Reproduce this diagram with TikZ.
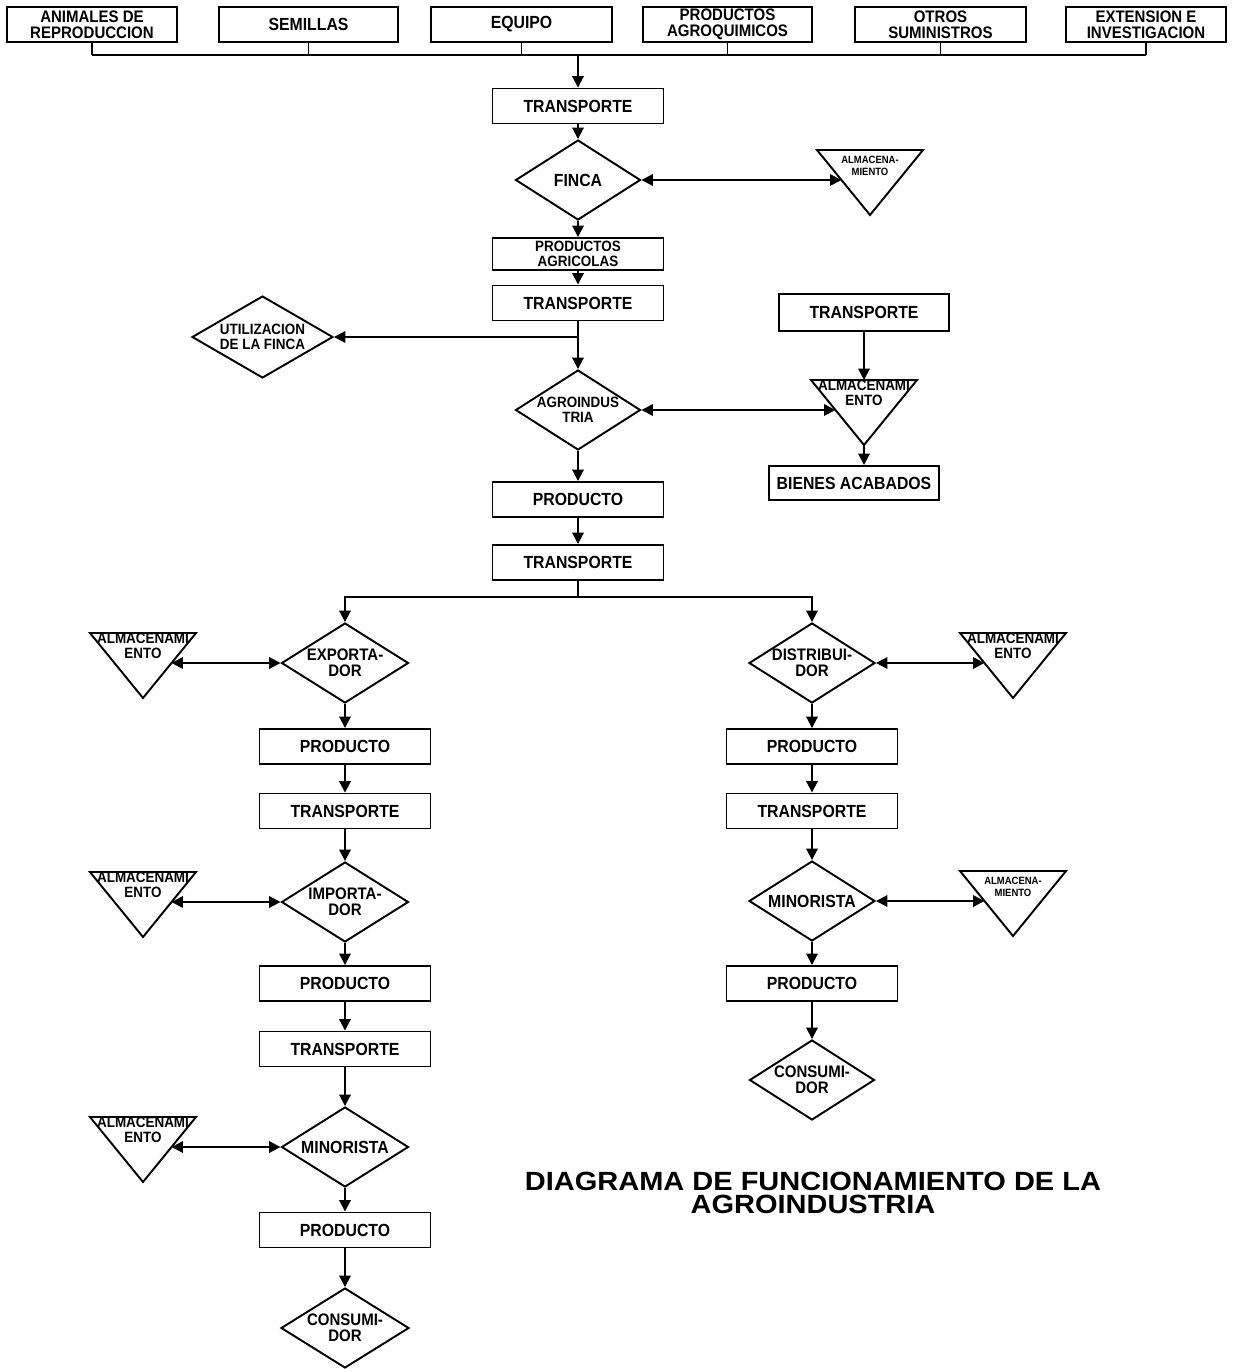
\documentclass[tikz,border=0pt]{standalone}
\usepackage{fontspec}
\setmainfont{Liberation Sans}
\newfontfamily\labfont[FakeStretch=0.9]{Liberation Sans}
\newfontfamily\titlefont[FakeStretch=1.1]{Liberation Sans}
\usetikzlibrary{shapes.geometric,arrows.meta,calc}

\tikzset{
  conn/.style={line width=1.1pt},
  tip/.style={},
  arr/.style={conn, -{Triangle[length=6.5pt,width=6.5pt]}},
  darr/.style={conn, {Triangle[length=6.5pt,width=6.5pt]}-{Triangle[length=6.5pt,width=6.5pt]}},
  lbl/.style={font=\labfont\bfseries\fontsize{10}{9}\selectfont, align=center, inner sep=0pt},
  lbltwo/.style={font=\labfont\bfseries\fontsize{9.5}{9}\selectfont, align=center, inner sep=0pt},
  lblsmall/.style={font=\labfont\bfseries\fontsize{8.5}{8.5}\selectfont, align=center, inner sep=0pt},
  tribig/.style={font=\labfont\bfseries\fontsize{8.5}{8.5}\selectfont, align=center, inner sep=0pt},
  trismall/.style={font=\labfont\bfseries\fontsize{6}{6.5}\selectfont, align=center, inner sep=0pt, yshift=-0.06cm},
  box/.style={draw, line width=1.1pt, minimum width=3.42cm, minimum height=0.7cm, inner sep=0pt, lbl},
  tbox/.style={box},
  diam/.style={diamond, draw, line width=1.1pt, inner sep=0pt, minimum width=2.5cm, minimum height=1.6cm},
  dtext/.style={lbl},
  dtwo/.style={lbltwo},
  dsmall/.style={lblsmall},
  titletext/.style={font=\titlefont\bfseries\fontsize{15}{13.5}\selectfont, align=center, inner sep=0pt},
}

% storage symbol: inverted triangle with its label
% #1 name, #2 centre x, #3 top edge y, #4 text, #5 text style
\newcommand\almac[5]{%
  \coordinate (#1-tl) at ({#2-53},#3);
  \coordinate (#1-tr) at ({#2+53},#3);
  \coordinate (#1-ap) at (#2,{#3+65});
  \draw[line width=1.1pt, line join=miter] (#1-tl) -- (#1-tr) -- (#1-ap) -- cycle;
  \coordinate (#1-l) at ($(#1-tl)!0.4615!(#1-ap)$);
  \coordinate (#1-r) at ($(#1-tr)!0.4615!(#1-ap)$);
  \node[#5] (#1-txt) at (#2,{#3+13}) {#4};
}

\begin{document}
\begin{tikzpicture}[x=0.02cm,y=-0.02cm]
\useasboundingbox (0,0) rectangle (1232,1369);

% ---- inputs ----
\node[tbox, lbltwo, minimum width=3.40cm] (b1) at (92,24.5)    {ANIMALES DE\\REPRODUCCION};
\node[tbox, minimum width=3.58cm] (b2) at (308.5,24.5) {SEMILLAS};
\node[tbox, minimum width=3.62cm] (b3) at (521.5,24.5) {EQUIPO};
\node[tbox, lbltwo, minimum width=3.38cm] (b4) at (727.5,24.5) {PRODUCTOS\\AGROQUIMICOS};
\node[tbox, lbltwo, minimum width=3.42cm] (b5) at (940.5,24.5) {OTROS\\SUMINISTROS};
\node[tbox, lbltwo, minimum width=3.20cm] (b6) at (1146,24.5)  {EXTENSION E\\INVESTIGACION};

\coordinate (bus) at (0,55);
\foreach \b in {b1,b2,b3,b4,b5,b6}
  \draw[conn] (\b.south) -- (\b.south |- bus);
\draw[conn] (b1.south |- bus) -- (b6.south |- bus);

% ---- main chain ----
\node[box] (t1) at (578,106) {TRANSPORTE};
\node[diam, label={[dtext]center:FINCA}] (finca) at (578,180) {};
\node[box, minimum height=0.64cm, lblsmall] (pagr) at (578,254) {PRODUCTOS\\AGRICOLAS};
\node[box] (t2) at (578,303) {TRANSPORTE};
\node[diam, minimum width=2.82cm, minimum height=1.64cm,
      label={[dsmall]center:{UTILIZACION\\DE LA FINCA}}] (util) at (262.5,337) {};
\node[diam, label={[dsmall]center:{AGROINDUS\\TRIA}}] (agro) at (578,410) {};
\node[box] (prod) at (578,499.5) {PRODUCTO};
\node[box] (t3) at (578,562.5) {TRANSPORTE};

\almac{alm1}{870}{150}{ALMACENA-\\MIENTO}{trismall}

\node[box, minimum width=3.40cm, minimum height=0.74cm] (t4) at (864,312.5) {TRANSPORTE};
\almac{alm2}{864}{380}{ALMACENAMI\\ENTO}{tribig}
\node[box, minimum width=3.40cm, minimum height=0.68cm] (bienes) at (854,483) {BIENES ACABADOS};

\draw[arr] (t1.north |- bus) -- (t1.north);
\draw[arr] (t1.south) -- (finca.north);
\draw[darr] (finca.east) -- (alm1-l);
\draw[arr] (finca.south) -- (pagr.north);
\draw[arr] (pagr.south) -- (t2.north);
\draw[arr] (t2.south) -- (agro.north);
\draw[arr] (t2.south |- util.east) -- (util.east);
\draw[darr] (agro.east) -- (alm2-l);
\draw[arr] (t4.south) -- (t4.south |- alm2-tl);
\draw[arr] (alm2-ap) -- (alm2-ap |- bienes.north);
\draw[arr] (agro.south) -- (prod.north);
\draw[arr] (prod.south) -- (t3.north);

% ---- export branch ----
\node[diam, minimum width=2.54cm, label={[dtwo]center:{EXPORTA-\\DOR}}] (exp) at (345,663) {};
\node[box] (p1) at (345,746.5) {PRODUCTO};
\node[box] (tr1) at (345,811) {TRANSPORTE};
\node[diam, minimum width=2.54cm, label={[dtwo]center:{IMPORTA-\\DOR}}] (imp) at (345,902) {};
\node[box] (p2) at (345,983.5) {PRODUCTO};
\node[box] (tr2) at (345,1049) {TRANSPORTE};
\node[diam, minimum width=2.54cm, label={[dtext]center:MINORISTA}] (mino) at (345,1147) {};
\node[box] (p3) at (345,1230) {PRODUCTO};
\node[diam, minimum width=2.56cm, label={[dtwo]center:{CONSUMI-\\DOR}}] (cons) at (345,1328) {};

\almac{alm3}{143}{633}{ALMACENAMI\\ENTO}{tribig}
\almac{alm4}{143}{872}{ALMACENAMI\\ENTO}{tribig}
\almac{alm5}{143}{1117}{ALMACENAMI\\ENTO}{tribig}

% ---- domestic branch ----
\node[diam, minimum width=2.52cm, label={[dtwo]center:{DISTRIBUI-\\DOR}}] (dist) at (812,663) {};
\node[box] (p4) at (812,746.5) {PRODUCTO};
\node[box] (tr3) at (812,811) {TRANSPORTE};
\node[diam, minimum width=2.52cm, label={[dtext]center:MINORISTA}] (mino2) at (812,901) {};
\node[box] (p5) at (812,983.5) {PRODUCTO};
\node[diam, minimum width=2.5cm, label={[dtwo]center:{CONSUMI-\\DOR}}] (cons2) at (812,1080) {};

\almac{alm6}{1013}{633}{ALMACENAMI\\ENTO}{tribig}
\almac{alm7}{1013}{871}{ALMACENA-\\MIENTO}{trismall}

% ---- split after transport ----
\coordinate (split) at (578,597);
\draw[conn] (t3.south) -- (split);
\draw[arr] (split) -| (exp.north);
\draw[arr] (split) -| (dist.north);

\draw[darr] (alm3-r) -- (exp.west);
\draw[arr] (exp.south) -- (p1.north);
\draw[arr] (p1.south) -- (tr1.north);
\draw[arr] (tr1.south) -- (imp.north);
\draw[darr] (alm4-r) -- (imp.west);
\draw[arr] (imp.south) -- (p2.north);
\draw[arr] (p2.south) -- (tr2.north);
\draw[arr] (tr2.south) -- (mino.north);
\draw[darr] (alm5-r) -- (mino.west);
\draw[arr] (mino.south) -- (p3.north);
\draw[arr] (p3.south) -- (cons.north);

\draw[darr] (dist.east) -- (alm6-l);
\draw[arr] (dist.south) -- (p4.north);
\draw[arr] (p4.south) -- (tr3.north);
\draw[arr] (tr3.south) -- (mino2.north);
\draw[darr] (mino2.east) -- (alm7-l);
\draw[arr] (mino2.south) -- (p5.north);
\draw[arr] (p5.south) -- (cons2.north);

% ---- title ----
\node[titletext] (title) at (813,1193) {DIAGRAMA DE FUNCIONAMIENTO DE LA\\AGROINDUSTRIA};
\end{tikzpicture}
\end{document}
